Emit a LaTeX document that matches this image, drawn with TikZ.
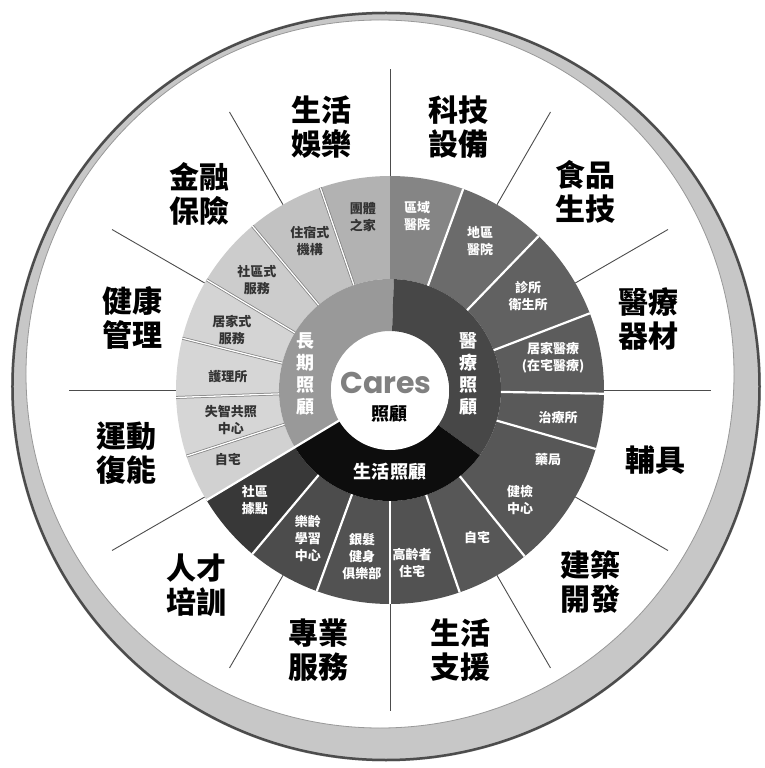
\documentclass[tikz,border=0pt]{standalone}
\usepackage{fontspec}
\setmainfont{Noto Sans CJK TC}
\newfontfamily\cjk{Noto Sans CJK TC}
\newfontfamily\capfont{Poppins}
\usetikzlibrary{calc}
\tikzset{
  big/.style={font=\cjk\bfseries\fontsize{30}{34}\selectfont, align=center, text=black, inner sep=0pt},
  sub/.style={font=\cjk\bfseries\fontsize{13}{17}\selectfont, align=center, text=white, inner sep=0pt},
  subd/.style={sub, text=black!80},
  mid/.style={font=\cjk\bfseries\fontsize{18}{22}\selectfont, align=center, text=white, inner sep=0pt},
  spoke/.style={draw=black!70, line width=0.9pt},
  wline/.style={draw=white, line width=2.2pt},
  dline/.style={draw=black!50, line width=2.8pt},
  iline/.style={draw=white, line width=1.3pt},
}
\newcommand\ringsec[5]{%
  \fill[#1] (#2:#4) arc[start angle=#2, end angle=#3, radius=#4] -- (#3:#5) arc[start angle=#3, end angle=#2, radius=#5] -- cycle;}
\begin{document}
\begin{tikzpicture}[x=1pt,y=1pt]
\useasboundingbox (-390,-378) rectangle (374,390);
% outer band
\fill[black!22, even odd rule] (-4,3.5) circle[radius=375] (-10,16) circle[radius=354];
\draw[black!70, line width=2.5pt] (-4,3.5) circle[radius=373.5];
\draw[black!40, line width=0.8pt] (-10,16) circle[radius=354];
% outer spokes
\foreach \a in {0,30,...,330} \draw[spoke] (\a:214) -- (\a:321);
% middle ring: long-term care
\ringsec{black!30}{90}{109}{111}{214}
\ringsec{black!24}{109}{130}{111}{214}
\ringsec{black!20}{130}{149}{111}{214}
\ringsec{black!17}{149}{166}{111}{214}
\ringsec{black!16}{166}{182}{111}{214}
\ringsec{black!16}{182}{198}{111}{214}
\ringsec{black!18}{198}{211}{111}{214}
% middle ring: medical care
\ringsec{black!48}{70}{90}{111}{214}
\ringsec{black!58}{46}{70}{111}{214}
\ringsec{black!62}{21}{46}{111}{214}
\ringsec{black!64}{-1}{21}{111}{214}
\ringsec{black!65}{-16}{-1}{111}{214}
\ringsec{black!66}{-51}{-16}{111}{214}
% middle ring: life care
\ringsec{black!66}{-71}{-51}{111}{214}
\ringsec{black!68}{-90}{-71}{111}{214}
\ringsec{black!68}{-110}{-90}{111}{214}
\ringsec{black!70}{-130}{-110}{111}{214}
\ringsec{black!78}{-149}{-130}{111}{214}
% inner ring
\ringsec{black!40}{88}{211}{59}{111}
\ringsec{black!72}{-36}{88}{59}{111}
\ringsec{black!95}{-149}{-36}{59}{111}
% sector dividers
\foreach \a in {109,130,149,166,182,198} {\draw[dline] (\a:111) -- (\a:214); \draw[iline] (\a:111) -- (\a:214);}
\foreach \a in {70,46,21,-1,-16,-51,-71,-90,-110,-130} \draw[wline] (\a:111) -- (\a:214);
\draw[wline] (211:59) -- (211:214);
% centre
\fill[white] (0,-1) circle[radius=59];
\node[font=\capfont\bfseries\fontsize{30}{30}\selectfont, text=black!50, inner sep=0pt] (cares) at (-4,7) {Cares};
\node[font=\cjk\bfseries\fontsize{18}{18}\selectfont, inner sep=0pt] (zg) at (-1,-24) {照顧};
% inner labels
\node[mid] (ltc) at (-84,16) {長\\期\\照\\顧};
\node[mid] (med) at (78,16) {醫\\療\\照\\顧};
\node[mid] (life) at (0,-82) {生活照顧};
% outer labels
\node[big] (o1) at (-68,263) {生活\\娛樂};
\node[big] (o2) at (68,263) {科技\\設備};
\node[big] (o3) at (195,198) {食品\\生技};
\node[big] (o4) at (258,71) {醫療\\器材};
\node[big] (o5) at (265,-70) {輔具};
\node[big] (o6) at (200,-192) {建築\\開發};
\node[big] (o7) at (70,-260) {生活\\支援};
\node[big] (o8) at (-71,-260) {專業\\服務};
\node[big] (o9) at (-193,-195) {人才\\培訓};
\node[big] (o10) at (-263,-63) {運動\\復能};
\node[big] (o11) at (-257,72) {健康\\管理};
\node[big] (o12) at (-190,196) {金融\\保險};
% long-term care sub labels
\node[subd] (l1) at (-27,173) {團體\\之家};
\node[subd] (l2) at (-80,149) {住宿式\\機構};
\node[subd] (l3) at (-133,110) {社區式\\服務};
\node[subd] (l4) at (-158,60) {居家式\\服務};
\node[subd] (l5) at (-162,13) {護理所};
\node[subd] (l6) at (-159,-30) {失智共照\\中心};
\node[subd] (l7) at (-162,-70) {自宅};
% medical sub labels
\node[sub] (m1) at (27,174) {區域\\醫院};
\node[sub] (m2) at (90,149) {地區\\醫院};
\node[sub] (m3) at (138,94) {診所\\衛生所};
\node[sub] (m4) at (163,32) {居家醫療\\(在宅醫療)};
\node[sub] (m5) at (168,-28) {治療所};
\node[sub] (m6) at (158,-70) {藥局};
\node[sub] (m7) at (130,-110) {健檢\\中心};
% life care sub labels
\node[sub] (v1) at (87,-148) {自宅};
\node[sub] (v2) at (22,-173) {高齡者\\住宅};
\node[sub] (v3) at (-28,-167) {銀髮\\健身\\俱樂部};
\node[sub] (v4) at (-82,-148) {樂齡\\學習\\中心};
\node[sub] (v5) at (-135,-110) {社區\\據點};
\end{tikzpicture}
\end{document}
